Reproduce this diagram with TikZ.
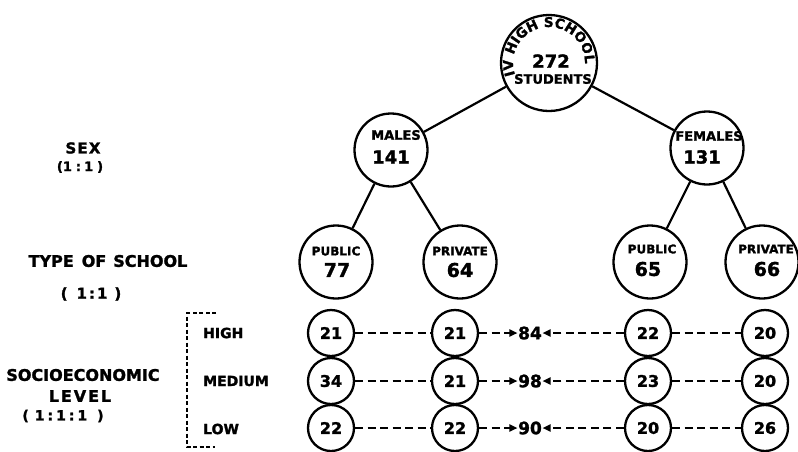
\documentclass[tikz,border=0pt]{standalone}
\usepackage{fontspec}
\setmainfont[BoldFeatures={FakeBold=1.6}]{DejaVu Sans}
\usetikzlibrary{arrows.meta,decorations.text}
\newcommand{\myfs}[1]{\fontsize{#1}{#1}\selectfont\bfseries}
\begin{document}
\begin{tikzpicture}[x=1pt,y=1pt,
  topc/.style={circle,draw,line width=2.3pt,minimum size=96pt,inner sep=0pt},
  bigc/.style={circle,draw,line width=2.3pt,minimum size=73pt,inner sep=0pt},
  smallc/.style={circle,draw,line width=2.3pt,minimum size=46pt,inner sep=0pt,font=\myfs{16}},
  txt/.style={inner sep=0pt},
  conn/.style={line width=2.2pt},
  dashc/.style={line width=1.9pt,dash pattern=on 8pt off 4.5pt},
  arr/.style={dashc,-{Triangle[length=8pt,width=7pt,sep=0pt]}},
  brk/.style={line width=1.7pt,dash pattern=on 4pt off 2.5pt},
  numn/.style={inner sep=0.5pt,font=\myfs{17}},
  rowl/.style={inner sep=0pt,anchor=west,font=\myfs{14}}]
\useasboundingbox (0,0) rectangle (798,-451);

% top circle
\node[topc] (top) at (549,-63) {};
\node[txt,font=\myfs{18}] (t272) at (551,-61) {272};
\node[txt,font=\myfs{13}] (tstud) at (553,-79) {STUDENTS};
\path[decorate,decoration={text along path,text align=center,
  text={|\myfs{13.5}|IV HIGH SCHOOL}}]
  (top.center) ++(203:36) arc[start angle=203,end angle=-5,radius=36];

% sex level
\node[bigc] (males) at (391,-150) {};
\node[txt,font=\myfs{13}] (maleslab) at (396,-135) {MALES};
\node[txt,font=\myfs{18}] (malesnum) at (391,-157) {141};
\node[bigc] (females) at (707,-148) {};
\node[txt,font=\myfs{13}] (femaleslab) at (709,-136) {FEMALES};
\node[txt,font=\myfs{18}] (femalesnum) at (702,-157) {131};

% type of school
\node[bigc] (pub1) at (336,-262) {};
\node[txt,font=\myfs{12}] (pub1lab) at (336,-251) {PUBLIC};
\node[txt,font=\myfs{19}] (pub1num) at (337,-270) {77};
\node[bigc] (priv1) at (460,-262) {};
\node[txt,font=\myfs{12}] (priv1lab) at (460,-251) {PRIVATE};
\node[txt,font=\myfs{19}] (priv1num) at (460,-270) {64};
\node[bigc] (pub2) at (650,-262) {};
\node[txt,font=\myfs{12}] (pub2lab) at (652,-249) {PUBLIC};
\node[txt,font=\myfs{19}] (pub2num) at (648,-269) {65};
\node[bigc] (priv2) at (762,-262) {};
\node[txt,font=\myfs{12}] (priv2lab) at (766,-249) {PRIVATE};
\node[txt,font=\myfs{19}] (priv2num) at (767,-269) {66};

\draw[conn] (top) -- (males);
\draw[conn] (top) -- (females);
\draw[conn] (males) -- (pub1);
\draw[conn] (males) -- (priv1);
\draw[conn] (females) -- (pub2);
\draw[conn] (females) -- (priv2);

% socioeconomic circles
\node[smallc] (a1) at (331,-333) {21};
\node[smallc] (b1) at (455,-333) {21};
\node[smallc] (c1) at (648,-333) {22};
\node[smallc] (d1) at (765,-333) {20};
\node[numn] (n1) at (530,-333) {84};
\node[smallc] (a2) at (331,-381) {34};
\node[smallc] (b2) at (455,-381) {21};
\node[smallc] (c2) at (648,-381) {23};
\node[smallc] (d2) at (765,-381) {20};
\node[numn] (n2) at (530,-381) {98};
\node[smallc] (a3) at (331,-428) {22};
\node[smallc] (b3) at (455,-428) {22};
\node[smallc] (c3) at (648,-428) {20};
\node[smallc] (d3) at (765,-428) {26};
\node[numn] (n3) at (530,-428) {90};

\foreach \r in {1,2,3}{
  \draw[dashc] (a\r) -- (b\r);
  \draw[arr] (b\r) -- (n\r);
  \draw[arr] (c\r) -- (n\r);
  \draw[dashc] (c\r) -- (d\r);
}

% row labels and bracket
\node[rowl] (lhigh) at (203,-333) {HIGH};
\node[rowl] (lmed) at (203,-381) {MEDIUM};
\node[rowl] (llow) at (203,-429) {LOW};
\coordinate (bk1) at (216,-313);
\coordinate (bk2) at (187,-313);
\coordinate (bk3) at (187,-447);
\coordinate (bk4) at (215,-447);
\draw[brk] (bk1) -- (bk2) -- (bk3) -- (bk4);

% left labels
\node[txt,font=\myfs{15}\addfontfeatures{LetterSpace=8}] (sex) at (83,-148) {SEX};
\node[txt,font=\myfs{13}] (sexr) at (80,-167) {(1\hspace{4pt}:\hspace{3pt}1\hspace{4pt})};
\node[txt,font=\myfs{16}] (tos) at (108,-261) {TYPE\hspace{8pt}OF\hspace{7pt}SCHOOL};
\node[txt,font=\myfs{15}] (tosr) at (91,-294) {(\hspace{9pt}1\hspace{2pt}:\hspace{2pt}1\hspace{7pt})};
\node[txt,font=\myfs{16}] (soc) at (83,-375) {SOCIOECONOMIC};
\node[txt,font=\myfs{16}\addfontfeatures{LetterSpace=12}] (lev) at (80,-396) {LEVEL};
\node[txt,font=\myfs{14}] (socr) at (63,-416) {(\hspace{6pt}1\hspace{3pt}:\hspace{3pt}1\hspace{3pt}:\hspace{3pt}1\hspace{10pt})};
\end{tikzpicture}
\end{document}
